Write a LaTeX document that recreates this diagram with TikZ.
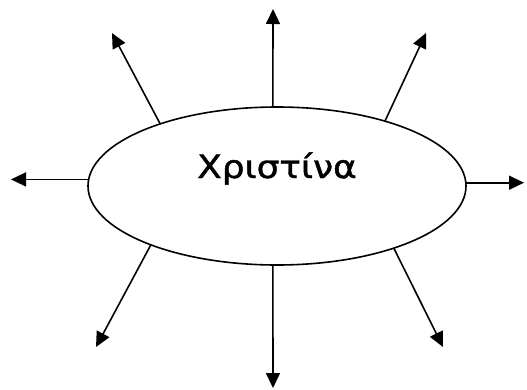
\documentclass[tikz,border=0pt]{standalone}
\usepackage{fontspec}
\newfontfamily\greekfont[FakeBold=1.3]{DejaVu Sans}
\usetikzlibrary{shapes.geometric,arrows.meta}
\begin{document}
\begin{tikzpicture}[x=1pt,y=-1pt,
  ray/.style={line width=1.6pt,-{Triangle[length=15pt,width=14pt]}},
  hub/.style={ellipse,draw,line width=1.6pt,minimum width=378pt,minimum height=158pt,inner sep=0pt,outer sep=0pt},
  hubtext/.style={inner sep=0pt,font=\greekfont\fontsize{32}{38}\selectfont}]
\useasboundingbox (0,0) rectangle (527,389);
\node[hub] (e) at (277,186) {};
\node[hubtext,anchor=base] (lbl) at (277,178) {\scalebox{1.12}[1]{Χριστίνα}};
\coordinate (tN)  at (273,9);
\coordinate (tNW) at (112,33);
\coordinate (tNE) at (426,33);
\coordinate (tW)  at (11,183);
\coordinate (tE)  at (524,183);
\coordinate (tSW) at (96,347);
\coordinate (tS)  at (273,388);
\coordinate (tSE) at (443,347);
\draw[ray] (e.93) -- (tN);
\draw[ray] (e.152.5) -- (tNW);
\draw[ray] (e.31) -- (tNE);
\draw[ray] (e.178.5) -- (e.178.5 -| tW);
\draw[ray] (e.1.5) -- (e.1.5 -| tE);
\draw[ray] (e.205.2) -- (tSW);
\draw[ray] (e.267) -- (tS);
\draw[ray] (e.332) -- (tSE);
\end{tikzpicture}
\end{document}
